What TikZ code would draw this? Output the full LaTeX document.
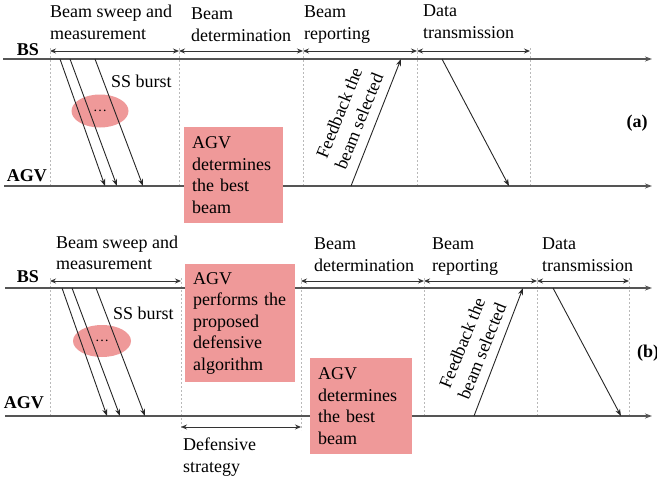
\documentclass[tikz,border=0pt]{standalone}
\usepackage{fontspec}
\setmainfont{Liberation Serif}
\usetikzlibrary{arrows.meta,shapes.geometric}
\definecolor{boxpink}{RGB}{239,153,153}
\definecolor{axisgray}{RGB}{85,85,85}
\definecolor{guidegray}{RGB}{185,185,185}
\begin{document}
\begin{tikzpicture}[x=1pt,y=-1pt,
  txt/.style={font=\fontsize{18}{21.5}\selectfont, inner sep=0pt, align=left},
  hd/.style={txt, anchor=north west},
  actor/.style={font=\fontsize{18}{21.5}\selectfont\bfseries, inner sep=0pt, anchor=base east},
  axis/.style={draw=axisgray, line width=1.3pt, -{Stealth[length=7pt,width=5pt]}},
  guide/.style={draw=guidegray, line width=0.8pt, dash pattern=on 2pt off 2pt},
  span/.style={draw=black!80, line width=0.9pt, {Stealth[length=6pt,width=5pt]}-{Stealth[length=6pt,width=5pt]}},
  sig/.style={draw=black!85, line width=0.9pt, -{Stealth[length=7pt,width=5pt]}},
  blob/.style={ellipse, fill=boxpink, minimum width=57pt, minimum height=33pt, inner sep=0pt, font=\fontsize{14}{14}\selectfont},
  note/.style={txt, fill=boxpink, anchor=north west, inner xsep=8pt, inner ysep=0pt}
]
\useasboundingbox (0,0) rectangle (657,479);

% ================= (a) =================
\foreach \x/\n in {50/a1,179/a2,303/a3,417/a4,530/a5}{
  \coordinate (\n-t) at (\x,48);
  \coordinate (\n-b) at (\x,186);
  \coordinate (\n-s) at (\x,51);
  \draw[guide] (\n-t) -- (\n-b);
}
\coordinate (aBSw) at (3,59);  \coordinate (aBSe) at (652,59);
\coordinate (aAGw) at (4,186); \coordinate (aAGe) at (652,186);
\draw[axis] (aBSw) -- (aBSe);
\draw[axis] (aAGw) -- (aAGe);
\draw[span] (a1-s) -- (a2-s);
\draw[span] (a2-s) -- (a3-s);
\draw[span] (a3-s) -- (a4-s);
\draw[span] (a4-s) -- (a5-s);

\node[hd] (aL1) at (50,5) {Beam sweep and\\measurement};
\node[hd] (aL2) at (191,8) {Beam\\determination};
\node[hd] (aL3) at (304,6) {Beam\\reporting};
\node[hd] (aL4) at (423,5) {Data\\transmission};

\node[actor] (aBS) at (39,55) {BS};
\node[actor] (aAGV) at (47,181) {AGV};

\node[blob] (aBurst) at (100,111) {\ldots};
\coordinate (aS1a) at (60,59);  \coordinate (aS1b) at (105,186);
\coordinate (aS2a) at (70,59);  \coordinate (aS2b) at (117,186);
\coordinate (aS3a) at (95,59);  \coordinate (aS3b) at (143,186);
\draw[sig] (aS1a) -- (aS1b);
\draw[sig] (aS2a) -- (aS2b);
\draw[sig] (aS3a) -- (aS3b);
\node[txt, anchor=base west] (aSS) at (111,87) {SS burst};

\node[note, text width=83pt, minimum height=96pt] (aDet) at (184,127) {AGV\\determines\\the best\\beam};

\coordinate (aFb0) at (351,186); \coordinate (aFb1) at (401,59);
\draw[sig] (aFb0) -- (aFb1);
\node[txt, align=center, rotate=68] (aFbL) at (349,117) {Feedback the\\beam selected};

\coordinate (aD0) at (442,59); \coordinate (aD1) at (509,186);
\draw[sig] (aD0) -- (aD1);

\node[actor, anchor=center] (aTag) at (637,123) {(a)};

% ================= (b) =================
\foreach \x/\n/\e in {50/b1/416,181/b2/430,301/b3/430,424/b4/416,537/b5/416,629/b6/416}{
  \coordinate (\n-t) at (\x,278);
  \coordinate (\n-b) at (\x,\e);
  \coordinate (\n-s) at (\x,281);
  \draw[guide] (\n-t) -- (\n-b);
}
\coordinate (bBSw) at (5,288);  \coordinate (bBSe) at (652,288);
\coordinate (bAGw) at (5,416);  \coordinate (bAGe) at (652,416);
\draw[axis] (bBSw) -- (bBSe);
\draw[axis] (bAGw) -- (bAGe);
\draw[span] (b1-s) -- (b2-s);
\draw[span] (b3-s) -- (b4-s);
\draw[span] (b4-s) -- (b5-s);
\draw[span] (b5-s) -- (b6-s);
\coordinate (bDs0) at (181,427); \coordinate (bDs1) at (301,427);
\draw[span] (bDs0) -- (bDs1);

\node[hd] (bL1) at (56,235.5) {Beam sweep and\\measurement};
\node[hd] (bL2) at (314,237.7) {Beam\\determination};
\node[hd] (bL3) at (432,237.7) {Beam\\reporting};
\node[hd] (bL4) at (542,238) {Data\\transmission};
\node[hd] (bL5) at (183,437.7) {Defensive\\strategy};

\node[actor] (bBS) at (39,282) {BS};
\node[actor] (bAGV) at (44,408) {AGV};

\node[blob, minimum width=58pt, minimum height=32pt] (bBurst) at (102,341) {\ldots};
\coordinate (bS1a) at (62,288);  \coordinate (bS1b) at (107,416);
\coordinate (bS2a) at (72,288);  \coordinate (bS2b) at (120,416);
\coordinate (bS3a) at (96,288);  \coordinate (bS3b) at (145,416);
\draw[sig] (bS1a) -- (bS1b);
\draw[sig] (bS2a) -- (bS2b);
\draw[sig] (bS3a) -- (bS3b);
\node[txt, anchor=base west] (bSS) at (113,319) {SS burst};

\node[note, text width=94pt, minimum height=118pt] (bDef) at (185,264) {AGV\\performs the\\proposed\\defensive\\algorithm};
\node[note, text width=86pt, minimum height=96pt] (bDet) at (310,358) {AGV\\determines\\the best\\beam};

\coordinate (bFb0) at (474,416); \coordinate (bFb1) at (523,288);
\draw[sig] (bFb0) -- (bFb1);
\node[txt, align=center, rotate=68] (bFbL) at (472,347) {Feedback the\\beam selected};

\coordinate (bD0) at (553,288); \coordinate (bD1) at (621,416);
\draw[sig] (bD0) -- (bD1);

\node[actor, anchor=west] (bTag) at (637,353) {(b)};
\end{tikzpicture}
\end{document}
